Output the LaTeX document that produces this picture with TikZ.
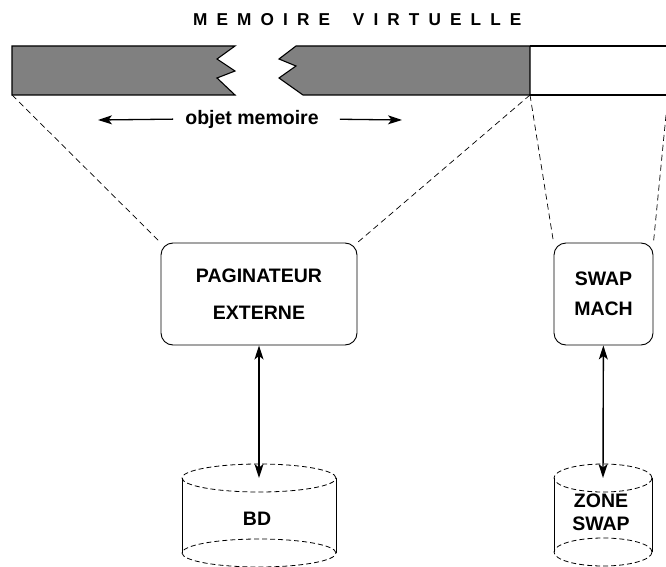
\documentclass[tikz,border=0pt]{standalone}
\usepackage{fontspec}
\setmainfont{Liberation Sans}
\newfontfamily\spacedfont[LetterSpace=53]{Liberation Sans}
\usetikzlibrary{arrows.meta,positioning}
\tikzset{box/.style={draw, rectangle, rounded corners=12pt, line width=0.9pt, align=center}}
\tikzstyle{lbl}=[font=\fontsize{19.5}{23}\selectfont\bfseries, inner sep=0pt, align=center]
\tikzstyle{proj}=[dash pattern=on 6pt off 4pt, line width=0.7pt]
\tikzstyle{disk}=[dash pattern=on 5pt off 3pt, line width=0.8pt]

\begin{document}
\begin{tikzpicture}[x=1pt, y=-1pt, >={Stealth[length=14pt,width=9pt,inset=3.5pt]}, line join=miter]
\useasboundingbox (0,0) rectangle (666,567);
\node[lbl, font=\fontsize{17.2}{20}\selectfont\bfseries, anchor=west] (titre) at (193,20) {\spacedfont MEMOIRE\hspace{9pt} VIRTUELLE};

% barre de memoire
\filldraw[fill=gray, line width=1.1pt] (12,46) -- (235,46) -- (217,59) -- (235,71) -- (217,78) -- (235,95) -- (12,95) -- cycle;
\filldraw[fill=gray, line width=1.1pt] (296,46) -- (530,46) -- (530,95) -- (303,95) -- (279,78) -- (296,66) -- (279,59) -- cycle;
\draw[line width=1.1pt] (530,46) -- (667,46) (530,95) -- (667,95);
\coordinate (barsw) at (12,95);
\coordinate (bardiv) at (530,95);
\coordinate (barse) at (668,95);

\node[lbl] (obj) at (252,119) {objet memoire};
\coordinate (objl) at (98,120);
\coordinate (objr) at (402,120);
\draw[->, line width=1.3pt, shorten <=12pt] (obj.west) -- (objl);
\draw[->, line width=1.3pt, shorten <=21pt] (obj.east) -- (objr);

% paginateurs
\node[box, lbl, minimum width=196pt, minimum height=102pt] (pag) at (259,294) {PAGINATEUR\\[14pt]EXTERNE};
\node[box, lbl, minimum width=99pt, minimum height=102pt] (swap) at (603.5,294) {SWAP\\[7pt]MACH};

\draw[proj] (barsw) -- (pag.north west);
\draw[proj] (bardiv) -- (pag.north east);
\draw[proj] (bardiv) -- (swap.north west);
\draw[proj] (barse) -- (swap.north east);

% disques
\coordinate (bdtop) at (259,478);
\coordinate (bdbot) at (259,553);
\draw[disk] (bdtop) ellipse [x radius=77pt, y radius=14pt];
\draw[disk] (bdbot) ellipse [x radius=77pt, y radius=14pt];
\draw[line width=0.9pt] ([xshift=-77pt]bdtop) -- ([xshift=-77pt]bdbot) ([xshift=77pt]bdtop) -- ([xshift=77pt]bdbot);
\node[lbl] (bd) at (257,519) {BD};

\coordinate (zstop) at (603,478);
\coordinate (zsbot) at (603,552);
\draw[disk] (zstop) ellipse [x radius=49pt, y radius=14pt];
\draw[disk] (zsbot) ellipse [x radius=49pt, y radius=14pt];
\draw[line width=0.9pt] ([xshift=-49pt]zstop) -- ([xshift=-49pt]zsbot) ([xshift=49pt]zstop) -- ([xshift=49pt]zsbot);
\node[lbl] (zone) at (601,512) {ZONE\\[0pt]SWAP};

\path[<->, line width=1.4pt] (pag) edge (bdtop)
  (swap) edge (zstop);
\end{tikzpicture}
\end{document}
